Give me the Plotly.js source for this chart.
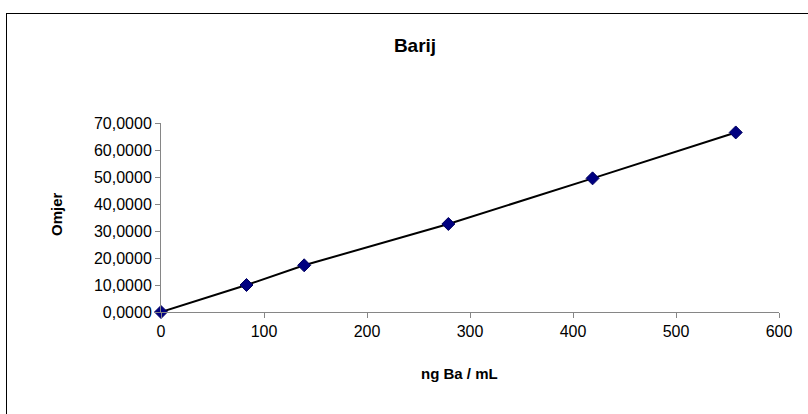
<!DOCTYPE html>
<html>
<head>
<meta charset="utf-8">
<script src="https://cdn.plot.ly/plotly-3.0.1.min.js"></script>
<style>
  html, body { margin: 0; padding: 0; background: #fff; overflow: hidden; }
  #wrap { position: relative; width: 808px; height: 414px; }
  #chart { width: 808px; height: 414px; }
  #frame { position: absolute; left: 6px; top: 13px; width: 900px; height: 500px;
           border: 1px solid #000; pointer-events: none; }
</style>
</head>
<body>
<div id="wrap">
  <div id="chart"></div>
  <div id="frame"></div>
</div>
<script>
const concentration = [0, 83, 139, 279, 419, 558];
const ratio = [0, 10.0, 17.3, 32.6, 49.5, 66.5];
const xTicks = [0, 100, 200, 300, 400, 500, 600];
const yTicks = [0, 10, 20, 30, 40, 50, 60, 70];
const chartTitle = 'Barij';
const xTitle = 'ng Ba / mL';
const yTitle = 'Omjer';

const font = "Liberation Sans, Arial, sans-serif";

const traces = [
  {
    x: concentration, y: ratio, type: 'scatter', mode: 'lines',
    line: { color: '#000000', width: 2 }, cliponaxis: false,
    hoverinfo: 'skip', showlegend: false
  },
  {
    x: concentration, y: ratio, type: 'scatter', mode: 'markers', cliponaxis: false,
    marker: { symbol: 'diamond', size: 10, color: '#000080',
              line: { color: '#000060', width: 1 } },
    showlegend: false
  }
];

const layout = {
  width: 808, height: 414,
  margin: { l: 161, r: 29, t: 123, b: 102 },
  paper_bgcolor: '#ffffff', plot_bgcolor: '#ffffff',
  separators: ', ',
  font: { family: font, color: '#000', size: 16 },
  title: {
    text: '<b>' + chartTitle + '</b>', font: { family: font, size: 19, color: '#000' },
    x: 415 / 808, xref: 'container', xanchor: 'center',
    y: 1 - 45 / 414, yref: 'container', yanchor: 'middle'
  },
  xaxis: {
    range: [0, 600], tickvals: xTicks, ticks: 'outside', ticklen: 5,
    tickcolor: '#868686', showline: true, linecolor: '#868686', linewidth: 1,
    showgrid: false, zeroline: false, tickfont: { family: font, size: 16, color: '#000' }
  },
  yaxis: {
    range: [0, 70], tickvals: yTicks, tickformat: '.4f', ticks: 'outside', ticklen: 5,
    tickcolor: '#868686', showline: true, linecolor: '#868686', linewidth: 1,
    showgrid: false, zeroline: false, tickfont: { family: font, size: 16, color: '#000' }
  },
  annotations: [
    { text: '<b>' + xTitle + '</b>', xref: 'paper', yref: 'paper',
      x: (459 - 161) / (808 - 161 - 29), y: -(373 - 312) / (414 - 123 - 102),
      xanchor: 'center', yanchor: 'middle', showarrow: false,
      font: { family: font, size: 15, color: '#000' } },
    { text: '<b>' + yTitle + '</b>', xref: 'paper', yref: 'paper', textangle: -90,
      x: -(161 - 56) / (808 - 161 - 29), y: (312 - 214) / (414 - 123 - 102),
      xanchor: 'center', yanchor: 'middle', showarrow: false,
      font: { family: font, size: 15, color: '#000' } }
  ]
};

Plotly.newPlot('chart', traces, layout, { displayModeBar: false, staticPlot: true });
</script>
</body>
</html>
